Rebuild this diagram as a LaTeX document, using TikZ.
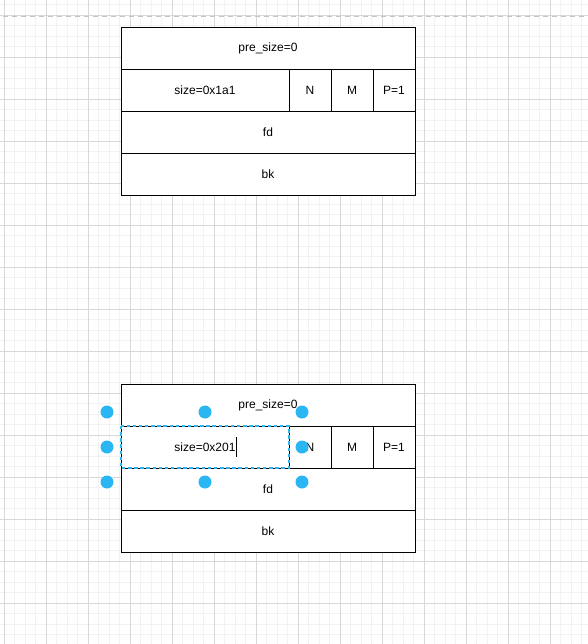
\documentclass[tikz,border=0pt]{standalone}
\usepackage{fontspec}
\setmainfont{Liberation Sans}
\usepackage{tikz}
\definecolor{gridminor}{HTML}{F2F2F2}
\definecolor{gridmajor}{HTML}{D8D8D8}
\definecolor{pageline}{HTML}{C4C4C4}
\definecolor{handleblue}{HTML}{29B6F2}
\tikzstyle{cell}=[
	rectangle,
	draw=black,
	line width=0.75pt,
	fill=white,
	inner sep=0pt,
	outer sep=0pt,
	minimum height=31.5pt,
	font=\fontsize{9pt}{11pt}\selectfont
]
\tikzstyle{wide}=[cell, minimum width=220.5pt]
\tikzstyle{sizecell}=[cell, minimum width=126pt]
\tikzstyle{flag}=[cell, minimum width=31.5pt]
\tikzstyle{handle}=[circle, fill=handleblue, inner sep=0pt, minimum size=9.75pt]

\begin{document}
\begin{tikzpicture}[x=0.75pt,y=-0.75pt]

% Canvas
\useasboundingbox (0,0) rectangle (588,644);
\fill[white] (0,0) rectangle (588,644);

% Grid
\begin{scope}
\clip (0,0) rectangle (588,644);
\foreach \i in {-1,...,56}
	\draw[gridminor,line width=0.75pt] (4+10.5*\i,0) -- (4+10.5*\i,644);
\foreach \i in {-2,...,61}
	\draw[gridminor,line width=0.75pt] (0,15+10.5*\i) -- (588,15+10.5*\i);
\foreach \i in {0,...,14}
	\draw[gridmajor,line width=0.75pt] (4+42*\i,0) -- (4+42*\i,644);
\foreach \i in {-1,...,15}
	\draw[gridmajor,line width=0.75pt] (0,15+42*\i) -- (588,15+42*\i);
\end{scope}

% Page break
\draw[pageline,line width=0.75pt,dash pattern=on 3.75pt off 3pt] (3,16) -- (588,16);

% Chunk before
\node[wide] (pre1) at (268,48) {pre\_size=0};
\node[sizecell] (sz1) at (205,90) {size=0x1a1};
\node[flag] (n1) at (310,90) {N};
\node[flag] (m1) at (352,90) {M};
\node[flag] (p1) at (394,90) {P=1};
\node[wide] (fd1) at (268,132) {fd};
\node[wide] (bk1) at (268,174) {bk};

% Chunk after
\node[wide] (pre2) at (268,405) {pre\_size=0};
\node[sizecell] (sz2) at (205,447) {};
\node[flag] (n2) at (310,447) {N};
\node[flag] (m2) at (352,447) {M};
\node[flag] (p2) at (394,447) {P=1};
\node[wide] (fd2) at (268,489) {fd};
\node[wide] (bk2) at (268,531) {bk};

% Text being edited
\node[font=\fontsize{9pt}{11pt}\selectfont, inner sep=0pt] (sztxt) at (205,447) {size=0x201};
\draw[black,line width=0.75pt] ([xshift=0.9pt,yshift=7.5pt]sztxt.east) -- ([xshift=0.9pt,yshift=-7.5pt]sztxt.east);

% Selection
\draw[handleblue,line width=1pt,dash pattern=on 2.6pt off 2pt] (sz2.north west) rectangle (sz2.south east);

% Handles
\node[handle] (h1) at ([shift={(-14,-14)}]sz2.north west) {};
\node[handle] (h2) at ([shift={(0,-14)}]sz2.north) {};
\node[handle] (h3) at ([shift={(13,-14)}]sz2.north east) {};
\node[handle] (h4) at ([shift={(-14,0)}]sz2.west) {};
\node[handle] (h5) at ([shift={(13,0)}]sz2.east) {};
\node[handle] (h6) at ([shift={(-14,14)}]sz2.south west) {};
\node[handle] (h7) at ([shift={(0,14)}]sz2.south) {};
\node[handle] (h8) at ([shift={(13,14)}]sz2.south east) {};

\end{tikzpicture}
\end{document}
